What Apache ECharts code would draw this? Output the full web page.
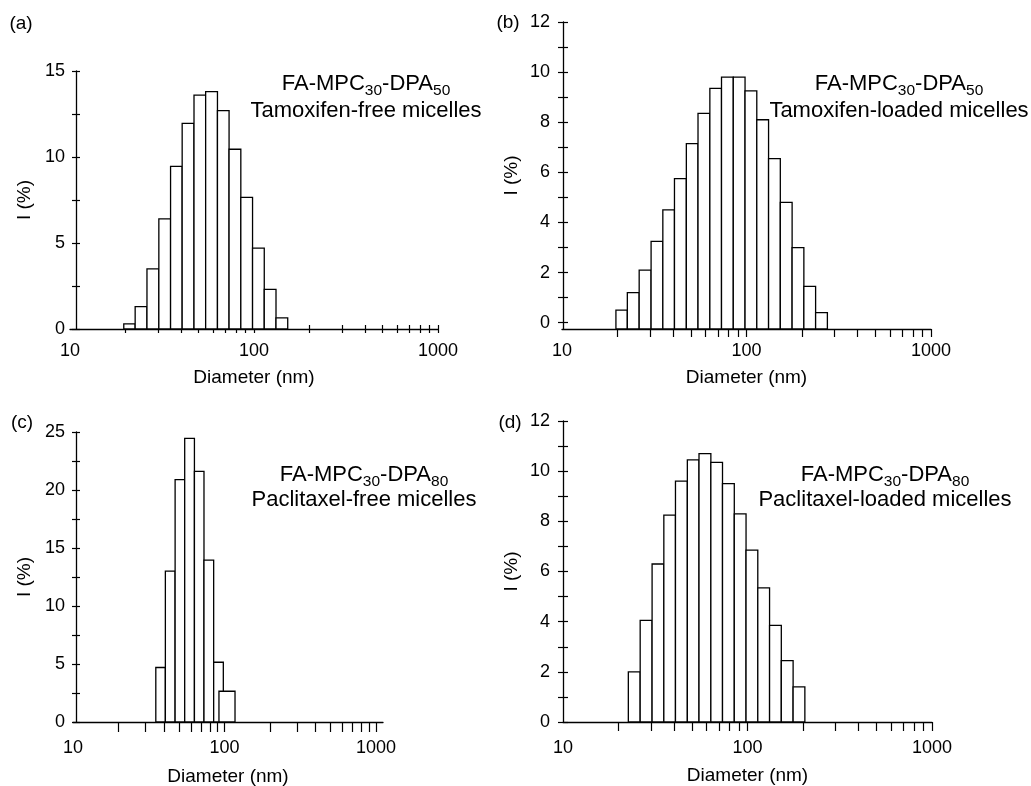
<!DOCTYPE html>
<html>
<head>
<meta charset="utf-8">
<script src="https://cdn.jsdelivr.net/npm/echarts@6/dist/echarts.min.js"></script>
<style>
  html, body { margin: 0; padding: 0; background: #fff; }
  #chart { width: 1031px; height: 786px; }
</style>
</head>
<body>
<div id="chart"></div>
<script>
// DLS size distributions by intensity; bin edges are diameters in nm.
const binEdgesA = [19.6, 22.6, 26.2, 30.4, 35.2, 40.7, 47.2, 54.6, 63.3, 73.2, 84.8, 98.2, 113.7, 131.7, 152.5];
const intensityA = [0.3, 1.3, 3.5, 6.4, 9.45, 11.95, 13.6, 13.8, 12.7, 10.45, 7.65, 4.7, 2.3, 0.65];

const binEdgesB = [19.6, 22.6, 26.2, 30.4, 35.2, 40.7, 47.2, 54.6, 63.3, 73.2, 84.8, 98.2, 113.7, 131.7, 152.5, 176.7, 204.6, 236.9, 274.4];
const intensityB = [0.5, 1.2, 2.1, 3.25, 4.5, 5.75, 7.15, 8.35, 9.35, 9.8, 9.8, 9.25, 8.1, 6.55, 4.8, 3.0, 1.45, 0.4];

const binEdgesC = [35.2, 40.7, 47.2, 54.6, 63.3, 73.2, 84.8, 98.2];
const intensityC = [4.7, 13.0, 20.9, 24.45, 21.6, 13.95, 5.15];
// last class of panel (c), drawn as its own wider bin
const tailBinC = [91.9, 117.3];
const tailIntensityC = 2.65;

const binEdgesD = [22.6, 26.2, 30.4, 35.2, 40.7, 47.2, 54.6, 63.3, 73.2, 84.8, 98.2, 113.7, 131.7, 152.5, 176.7, 204.6];
const intensityD = [2.0, 4.05, 6.3, 8.25, 9.6, 10.45, 10.7, 10.35, 9.5, 8.3, 6.85, 5.35, 3.85, 2.45, 1.4];

// axis ticks and labels
const xTickDiameters = [20, 30, 40, 50, 60, 70, 80, 90, 100, 200, 300, 400, 500, 600, 700, 800, 900, 1000];
const xLabelDiameters = [10, 100, 1000];
const yTicksA = [0, 2.5, 5, 7.5, 10, 12.5, 15];
const yLabelsA = [0, 5, 10, 15];
const yTicksB = [0, 1, 2, 3, 4, 5, 6, 7, 8, 9, 10, 11, 12];
const yLabelsB = [0, 2, 4, 6, 8, 10, 12];
const yTicksC = [0, 2.5, 5, 7.5, 10, 12.5, 15, 17.5, 20, 22.5, 25];
const yLabelsC = [0, 5, 10, 15, 20, 25];
const yTicksD = [0, 1, 2, 3, 4, 5, 6, 7, 8, 9, 10, 11, 12];
const yLabelsD = [0, 2, 4, 6, 8, 10, 12];

// texts
const panelLetters = ['(a)', '(b)', '(c)', '(d)'];
const blockLengths = [['30', '50'], ['30', '50'], ['30', '80'], ['30', '80']];
const sampleNames = ['Tamoxifen-free micelles', 'Tamoxifen-loaded micelles',
                     'Paclitaxel-free micelles', 'Paclitaxel-loaded micelles'];
const xTitle = 'Diameter (nm)';
const yTitle = 'I (%)';

function barsFromEdges(edges, values) {
  return values.map((v, i) => [edges[i], edges[i + 1], v]);
}

const panelData = [
  barsFromEdges(binEdgesA, intensityA),
  barsFromEdges(binEdgesB, intensityB),
  barsFromEdges(binEdgesC, intensityC).concat([[tailBinC[0], tailBinC[1], tailIntensityC]]),
  barsFromEdges(binEdgesD, intensityD)
];
const panelYTicks = [yTicksA, yTicksB, yTicksC, yTicksD];
const panelYLabels = [yLabelsA, yLabelsB, yLabelsC, yLabelsD];

// page layout of the four panels
const layout = [
  { left: 70, top: 71, width: 368, height: 258, xMax: 3, yMin: 0, yMax: 15, yOffset: -6,
    xTickLen: 4, xCross: true, yTickLen: 4, yLabelMargin: 11, xLabelMargin: 13, xNameGap: 39,
    letter: [21, 24], note: [366, 84, 111] },
  { left: 562, top: 22, width: 369, height: 307, xMax: 3, yMin: -0.25, yMax: 12, yOffset: -1,
    xTickLen: 8, xCross: false, yTickLen: 5, yLabelMargin: 13, xLabelMargin: 13, xNameGap: 39,
    letter: [508, 23], note: [899, 84, 111] },
  { left: 73, top: 432, width: 310, height: 290, xMax: 3.046, yMin: 0, yMax: 25, yOffset: -3,
    xTickLen: 10, xCross: false, yTickLen: 4, yLabelMargin: 11, xLabelMargin: 17, xNameGap: 45,
    letter: [22, 423], note: [364, 475, 500] },
  { left: 563, top: 421, width: 369, height: 301, xMax: 3, yMin: 0, yMax: 12, yOffset: 0,
    xTickLen: 9, xCross: false, yTickLen: 5, yLabelMargin: 13, xLabelMargin: 17, xNameGap: 44,
    letter: [510, 423], note: [885, 475, 500] }
];

const FONT = '"Liberation Sans", Arial, Helvetica, sans-serif';
const INK = '#000';
const LINE_W = 1.3;
const NOTE_SIZE = 22;

const grids = [], xAxes = [], yAxes = [], series = [], graphics = [];

layout.forEach((L, i) => {
  grids.push({ left: L.left, top: L.top, width: L.width, height: L.height,
               containLabel: false, outerBoundsMode: 'none' });

  const xTickVals = xTickDiameters.map(d => Math.log10(d));
  const xLabelVals = xLabelDiameters.map(d => Math.log10(d));
  const xBase = {
    type: 'value', gridIndex: i, position: 'bottom', min: 1, max: L.xMax,
    splitLine: { show: false }
  };
  // main diameter axis (log10 scale)
  xAxes.push(Object.assign({}, xBase, {
    name: xTitle, nameLocation: 'middle', nameGap: L.xNameGap,
    nameTextStyle: { fontSize: 19, fontFamily: FONT, color: INK },
    axisLine: { show: true, onZero: false, lineStyle: { color: INK, width: LINE_W } },
    axisTick: { show: true, inside: false, length: L.xTickLen, customValues: xTickVals,
                lineStyle: { color: INK, width: 1.2 } },
    axisLabel: { show: true, customValues: xLabelVals, margin: L.xLabelMargin,
                 fontSize: 18, fontFamily: FONT, color: INK,
                 formatter: v => String(Math.round(Math.pow(10, v))) }
  }));
  // inner half of the ticks where they cross the axis line
  xAxes.push(Object.assign({}, xBase, {
    axisLine: { show: false, onZero: false },
    axisTick: { show: L.xCross, inside: true, length: L.xTickLen, customValues: xTickVals,
                lineStyle: { color: INK, width: 1.2 } },
    axisLabel: { show: false }
  }));

  const yBase = {
    type: 'value', gridIndex: i, position: 'left', min: L.yMin, max: L.yMax,
    offset: L.yOffset, splitLine: { show: false }
  };
  yAxes.push(Object.assign({}, yBase, {
    name: yTitle, nameLocation: 'middle', nameGap: 42, nameRotate: 90,
    nameTextStyle: { fontSize: 19, fontFamily: FONT, color: INK },
    axisLine: { show: true, onZero: false, lineStyle: { color: INK, width: LINE_W } },
    axisTick: { show: true, inside: false, length: L.yTickLen, customValues: panelYTicks[i],
                lineStyle: { color: INK, width: 1.2 } },
    axisLabel: { show: true, customValues: panelYLabels[i], margin: L.yLabelMargin,
                 fontSize: 18, fontFamily: FONT, color: INK }
  }));
  yAxes.push(Object.assign({}, yBase, {
    axisLine: { show: false, onZero: false },
    axisTick: { show: true, inside: true, length: L.yTickLen, customValues: panelYTicks[i],
                lineStyle: { color: INK, width: 1.2 } },
    axisLabel: { show: false }
  }));

  const baseValue = L.yMin;
  series.push({
    type: 'custom', coordinateSystem: 'cartesian2d',
    xAxisIndex: 2 * i, yAxisIndex: 2 * i, silent: true,
    data: panelData[i],
    renderItem: (params, api) => {
      const lo = api.value(0), hi = api.value(1), v = api.value(2);
      const p0 = api.coord([Math.log10(lo), baseValue]);
      const p1 = api.coord([Math.log10(hi), v]);
      return {
        type: 'rect',
        shape: { x: p0[0], y: p1[1], width: p1[0] - p0[0], height: p0[1] - p1[1] },
        style: { fill: '#fff', stroke: INK, lineWidth: LINE_W }
      };
    }
  });

  graphics.push({
    type: 'text', x: L.letter[0], y: L.letter[1], silent: true,
    style: { text: panelLetters[i], fill: INK, fontSize: 19, fontFamily: FONT,
             align: 'center', verticalAlign: 'middle' }
  });
  const [sub1, sub2] = blockLengths[i];
  graphics.push({
    type: 'text', x: L.note[0], y: L.note[1], silent: true,
    style: {
      text: '{m|FA-MPC}{s|' + sub1 + '}{m|-DPA}{s|' + sub2 + '}',
      fill: INK, fontSize: NOTE_SIZE, fontFamily: FONT,
      align: 'center', verticalAlign: 'middle',
      rich: {
        m: { fontSize: NOTE_SIZE, fontFamily: FONT, fill: INK, lineHeight: 28 },
        s: { fontSize: 15.5, fontFamily: FONT, fill: INK, lineHeight: 15, padding: [14, 0, 0, 0] }
      }
    }
  });
  graphics.push({
    type: 'text', x: L.note[0], y: L.note[2], silent: true,
    style: { text: sampleNames[i], fill: INK, fontSize: NOTE_SIZE, fontFamily: FONT,
             align: 'center', verticalAlign: 'middle' }
  });
});

const chart = echarts.init(document.getElementById('chart'), null, { renderer: 'canvas' });
chart.setOption({
  backgroundColor: '#fff',
  animation: false,
  grid: grids,
  xAxis: xAxes,
  yAxis: yAxes,
  series: series,
  graphic: { elements: graphics }
});
</script>
</body>
</html>
